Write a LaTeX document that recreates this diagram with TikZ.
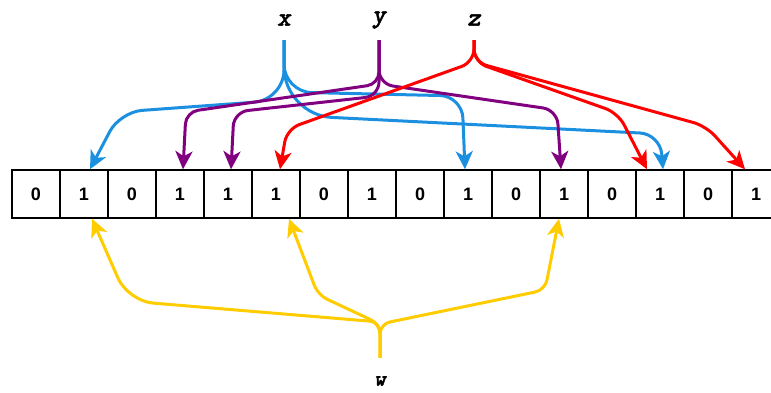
\documentclass[tikz,border=0pt]{standalone}
\usepackage{fontspec}
\setmainfont{Liberation Sans}
\newfontfamily\varfont{lmmonolt10-boldoblique.otf}[FakeBold=1.5]
\usetikzlibrary{arrows.meta}

\definecolor{xblue}{RGB}{27,143,224}
\definecolor{ypurple}{RGB}{128,0,128}
\definecolor{zred}{RGB}{255,0,0}
\definecolor{wyellow}{RGB}{255,204,0}

\begin{document}
\begin{tikzpicture}[x=1pt, y=-1pt,
        cell/.style={draw, line width=1.5pt, minimum size=48pt, inner sep=0pt, font=\fontsize{18}{18}\selectfont\bfseries},
        var/.style={inner sep=0pt, font=\varfont\fontsize{26}{26}\selectfont},
        arrow/.style={-{Stealth[length=18pt, width=17pt, inset=5pt]}, line width=3pt}
    ]
        \useasboundingbox (0,0) rectangle (771,392);

        % Bit array
        \foreach \b [count=\i from 0] in {0,1,0,1,1,1,0,1,0,1,0,1,0,1,0,1}
            \node[cell] (c\i) at (36+48*\i, 194) {\b};

        % Variables
        \node[var, minimum height=40pt] (x) at (284,20) {x};
        \node[var, minimum height=40pt] (y) at (379,20) {y};
        \node[var, minimum height=40pt] (z) at (474,20) {z};
        \node[var, font=\varfont\fontsize{22}{22}\selectfont] (w) at (380,381) {w};

        % x
        \draw[arrow, xblue, rounded corners=30pt] (x.south) -- (284,100) [rounded corners=22pt] -- (120,112) -- ([xshift=6pt]c1.north);
        \draw[arrow, xblue, rounded corners=28pt] (x.south) -- (284,92) [rounded corners=22pt] -- (462,96) -- ([xshift=-3pt]c9.north);
        \draw[arrow, xblue, rounded corners=48pt] (x.south) -- (284,115) [rounded corners=20pt] -- (660,134) -- ([xshift=3pt]c13.north);

        % y
        \draw[arrow, ypurple, rounded corners=12pt] (y.south) -- (379,84) -- (186,112) -- ([xshift=3pt]c3.north);
        \draw[arrow, ypurple, rounded corners=14pt] (y.south) -- (379,96) -- (234,112) -- ([xshift=3pt]c4.north);
        \draw[arrow, ypurple, rounded corners=14pt] (y.south) -- (379,84) -- (557,110) -- ([xshift=-3pt]c11.north);

        % z
        \draw[arrow, zred, rounded corners=13pt] (z.south) -- (474,62) -- (287,129) -- ([xshift=4pt]c5.north);
        \draw[arrow, zred, rounded corners=13pt] (z.south) -- (474,62) -- (618,113) -- ([xshift=-13pt]c13.north);
        \draw[arrow, zred, rounded corners=13pt] (z.south) -- (474,62) -- (706,126) -- ([xshift=-11pt]c15.north);

        % w
        \draw[arrow, wyellow, rounded corners=10pt] ([yshift=18pt]w.north) -- (380,322) [rounded corners=25pt] -- (128,301) -- ([xshift=8pt]c1.south);
        \draw[arrow, wyellow, rounded corners=10pt] ([yshift=18pt]w.north) -- (380,324) -- (318,295) -- ([xshift=13pt]c5.south);
        \draw[arrow, wyellow, rounded corners=10pt] ([yshift=18pt]w.north) -- (380,324) -- (545,290) -- ([xshift=-5pt]c11.south);

    \end{tikzpicture}
\end{document}
